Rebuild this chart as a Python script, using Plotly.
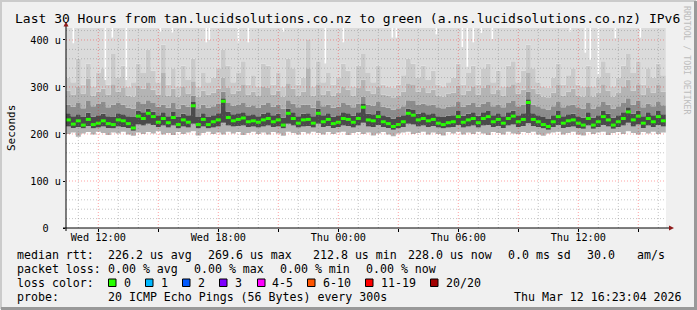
import plotly.graph_objects as go
import pandas as pd

# ---------------- data ----------------
TITLE = "Last 30 Hours from tan.lucidsolutions.co.nz to green (a.ns.lucidsolutions.co.nz) IPv6"
T_START = "2026-03-11 10:23:04"
T_END = "2026-03-12 16:23:04"
FIRST_STEP = "2026-03-11 10:22:30"
STEP = "15min"
Y_TOP = 425.5  # axis top in microseconds

# median rtt per 15-minute step (microseconds)
median_us = [
    230, 221, 228, 219, 231, 220, 223, 228, 222, 220,
    230, 228, 222, 212.8, 238, 233, 244, 237, 225, 233,
    224, 235, 220, 230, 225, 260, 220, 231, 220, 226,
    230, 269.6, 235, 228, 231, 234, 226, 228, 225, 230,
    233, 226, 230, 219, 244, 233, 223, 230, 231, 223,
    244, 226, 231, 222, 225, 233, 231, 225, 233, 257,
    230, 228, 237, 226, 222, 216, 220, 226, 244, 240,
    230, 233, 228, 231, 223, 220, 224, 226, 237, 225,
    230, 233, 224, 233, 237, 226, 231, 223, 233, 238,
    226, 231, 267, 231, 226, 220, 216, 226, 237, 223,
    228, 230, 223, 219, 233, 219, 226, 237, 230, 219,
    226, 233, 247, 230, 238, 223, 233, 226, 237, 228,
]

# smoke boundaries (sorted ping times, microseconds)
smoke_lo = [
    200, 203, 194, 201, 204, 199, 205, 202, 198, 203,
    201, 205, 199, 196, 203, 200, 204, 201, 206, 199,
    202, 198, 204, 200, 203, 206, 197, 202, 205, 200,
    203, 199, 205, 201, 204, 198, 202, 205, 200, 203,
    199, 204, 201, 196, 205, 202, 199, 204, 201, 205,
    202, 199, 204, 200, 203, 205, 198, 202, 204, 200,
    203, 197, 201, 204, 199, 195, 201, 203, 205, 200,
    202, 205, 199, 203, 200, 197, 204, 201, 205, 199,
    203, 200, 205, 201, 198, 204, 202, 199, 205, 201,
    200, 204, 202, 205, 199, 196, 201, 203, 205, 199,
    202, 205, 199, 197, 204, 200, 203, 205, 198, 202,
    204, 200, 206, 202, 199, 204, 201, 205, 200, 203,
]
smoke_lo2 = [
    216, 213, 215, 212, 217, 212, 214, 216, 213, 212,
    216, 215, 213, 207, 220, 218, 222, 219, 215, 218,
    214, 218, 212, 216, 214, 222, 212, 216, 212, 214,
    216, 224, 218, 216, 217, 218, 215, 216, 214, 216,
    218, 215, 216, 212, 222, 218, 214, 216, 217, 214,
    222, 215, 217, 213, 215, 218, 217, 214, 218, 224,
    216, 215, 219, 215, 213, 209, 212, 215, 222, 220,
    216, 218, 215, 217, 214, 212, 214, 215, 219, 214,
    216, 218, 214, 218, 219, 215, 217, 213, 218, 220,
    215, 217, 223, 217, 215, 212, 209, 215, 219, 213,
    215, 216, 213, 211, 218, 211, 215, 219, 216, 211,
    215, 218, 224, 216, 220, 213, 218, 215, 219, 216,
]
smoke_hi1 = [
    244, 238, 242, 236, 245, 237, 240, 243, 238, 236,
    244, 242, 238, 236, 250, 246, 254, 248, 240, 246,
    238, 247, 236, 243, 240, 268, 236, 244, 236, 240,
    244, 276, 248, 242, 244, 246, 240, 242, 238, 243,
    246, 240, 243, 235, 254, 246, 238, 243, 244, 238,
    254, 240, 244, 237, 240, 246, 244, 239, 246, 264,
    243, 242, 249, 240, 237, 233, 236, 240, 254, 251,
    243, 246, 242, 244, 238, 236, 239, 240, 249, 239,
    243, 246, 239, 246, 249, 240, 244, 238, 246, 250,
    240, 244, 274, 244, 240, 236, 232, 240, 249, 238,
    242, 243, 238, 235, 246, 235, 240, 249, 243, 235,
    240, 246, 257, 243, 250, 238, 246, 240, 249, 242,
]
smoke_hi2 = [
    262, 258, 266, 255, 270, 259, 264, 268, 257, 262,
    266, 262, 256, 254, 268, 264, 272, 266, 258, 263,
    256, 266, 254, 262, 258, 282, 255, 262, 256, 259,
    264, 290, 266, 260, 263, 266, 258, 261, 256, 262,
    266, 258, 262, 254, 272, 265, 257, 262, 263, 256,
    272, 259, 263, 256, 258, 266, 263, 257, 265, 280,
    262, 260, 268, 258, 256, 252, 255, 259, 272, 270,
    262, 265, 261, 263, 257, 255, 258, 259, 268, 258,
    262, 266, 258, 265, 268, 259, 263, 257, 266, 270,
    259, 263, 290, 263, 259, 255, 252, 259, 268, 257,
    261, 263, 257, 254, 266, 254, 259, 268, 262, 254,
    259, 266, 276, 262, 270, 257, 265, 259, 268, 261,
]
smoke_hi3 = [
    292, 284, 300, 286, 318, 282, 290, 296, 284, 306,
    290, 298, 282, 280, 302, 296, 310, 294, 284, 330,
    282, 296, 280, 300, 286, 312, 280, 292, 284, 288,
    296, 320, 298, 286, 292, 304, 284, 290, 282, 300,
    298, 284, 292, 280, 308, 296, 282, 290, 340, 282,
    306, 284, 292, 282, 288, 300, 294, 282, 298, 316,
    292, 286, 300, 284, 282, 278, 282, 290, 308, 304,
    290, 298, 288, 294, 282, 280, 286, 288, 302, 284,
    292, 300, 284, 298, 304, 286, 294, 282, 300, 306,
    286, 294, 330, 296, 286, 280, 278, 288, 304, 282,
    290, 296, 282, 280, 300, 280, 288, 306, 292, 280,
    288, 300, 316, 292, 306, 284, 298, 288, 304, 290,
]
smoke_hi4 = [
    320, 310, 360, 305, 350, 300, 330, 340, 305, 370,
    320, 345, 300, 310, 350, 330, 380, 335, 310, 390,
    305, 340, 300, 345, 315, 360, 300, 330, 310, 320,
    340, 380, 345, 310, 330, 355, 305, 325, 300, 350,
    345, 305, 330, 300, 360, 340, 305, 320, 400, 300,
    355, 310, 330, 305, 320, 350, 335, 300, 345, 370,
    330, 310, 345, 305, 300, 298, 305, 325, 360, 350,
    320, 345, 315, 335, 305, 300, 310, 320, 350, 305,
    330, 345, 305, 340, 350, 310, 335, 300, 345, 355,
    310, 335, 390, 340, 310, 300, 298, 320, 350, 305,
    325, 340, 305, 300, 345, 300, 320, 355, 330, 300,
    320, 345, 370, 330, 355, 305, 340, 320, 350, 325,
]

# steps whose slowest ping stayed below the top of the graph
gap_times = [
    "2026-03-11 10:45", "2026-03-11 12:21", "2026-03-11 12:42", "2026-03-11 13:24",
    "2026-03-11 15:06", "2026-03-11 15:42", "2026-03-11 17:24", "2026-03-11 17:33",
    "2026-03-11 19:00", "2026-03-11 19:30", "2026-03-11 21:15", "2026-03-11 23:21",
    "2026-03-12 00:15", "2026-03-12 02:42", "2026-03-12 02:54", "2026-03-12 04:54",
    "2026-03-12 06:12", "2026-03-12 06:27", "2026-03-12 06:45", "2026-03-12 07:09",
    "2026-03-12 07:42", "2026-03-12 11:36", "2026-03-12 12:21", "2026-03-12 12:36",
    "2026-03-12 13:00", "2026-03-12 13:51", "2026-03-12 15:06",
]
gap_floor_us = [
    393, 315, 405, 315, 418, 416, 395, 400,
    395, 395, 418, 350, 395, 405, 405, 412,
    385, 343, 395, 415, 402, 418, 373, 358,
    326, 404, 405,
]

x_tick_vals = ["2026-03-11 12:00", "2026-03-11 18:00", "2026-03-12 00:00",
               "2026-03-12 06:00", "2026-03-12 12:00"]
x_tick_text = ["Wed 12:00", "Wed 18:00", "Thu 00:00", "Thu 06:00", "Thu 12:00"]
y_tick_vals = [0, 100, 200, 300, 400]
y_tick_text = ["0\u00a0\u00a0", "100 u", "200 u", "300 u", "400 u"]

loss_labels = ["0", "1", "2", "3", "4-5", "6-10", "11-19", "20/20"]
loss_colors = ["#26ff00", "#00b8ff", "#0059ff", "#7e00ff", "#ff00ff", "#ff5500", "#ff0000", "#a10000"]

stats_rtt = ["226.2 us avg", "269.6 us max", "212.8 us min", "228.0 us now", "0.0 ms sd", "30.0", "am/s"]
stats_loss = ["0.00 % avg", "0.00 % max", "0.00 % min", "0.00 % now"]
probe_text = "20 ICMP Echo Pings (56 Bytes) every 300s"
stamp_text = "Thu Mar 12 16:23:04 2026"

# ---------------- layout geometry ----------------
W, H = 697, 310
PL, PR, PT, PB = 66, 666, 28, 228  # plot area in pixels
MONO = "DejaVu Sans Mono"


def px(x):
    return (x - PL) / (PR - PL)


def py(y):
    return (PB - y) / (PB - PT)


edges = pd.date_range(FIRST_STEP, periods=len(median_us) + 1, freq=STEP)

fig = go.Figure()

# smoke bands
bounds = [smoke_lo, smoke_lo2, smoke_hi1, smoke_hi2, smoke_hi3, smoke_hi4,
          [Y_TOP + 10] * len(median_us)]
band_colors = ["#b3b3b3", "#4a4a4a", "#8c8c8c", "#b4b4b4", "#cacaca", "#dbdbdb"]
for i, b in enumerate(bounds):
    yy = list(b) + [b[-1]]
    fig.add_trace(go.Scatter(
        x=edges, y=yy, mode="lines", line=dict(width=0, shape="hv"),
        fill=None if i == 0 else "tonexty",
        fillcolor=None if i == 0 else band_colors[i - 1],
        hoverinfo="skip", showlegend=False))

# white gaps where the max ping stayed below the graph top
gx, gy = [], []
for t, f in zip(gap_times, gap_floor_us):
    gx += [t, t, None]
    gy += [f, Y_TOP + 10, None]
fig.add_trace(go.Scatter(x=gx, y=gy, mode="lines",
                         line=dict(color="#ffffff", width=1.6),
                         hoverinfo="skip", showlegend=False))

# median dashes (loss colour 0)
mx, my = [], []
for k, m in enumerate(median_us):
    mx += [edges[k], edges[k + 1], None]
    my += [m, m, None]
fig.add_trace(go.Scatter(x=mx, y=my, mode="lines",
                         line=dict(color=loss_colors[0], width=3),
                         hoverinfo="skip", showlegend=False))

shapes = []
# grid (drawn over the data like rrdtool)
minor_v = pd.date_range("2026-03-11 11:00", "2026-03-12 16:00", freq="1h")
for t in minor_v:
    major = (t.hour % 3 == 0)
    shapes.append(dict(type="line", xref="x", yref="paper", x0=t, x1=t, y0=0, y1=1,
                       layer="above",
                       line=dict(color="rgba(255,0,0,0.36)" if major else "rgba(120,120,120,0.42)",
                                 width=1, dash="1px,2px")))
for v in range(20, 421, 20):
    major = (v % 100 == 0)
    shapes.append(dict(type="line", xref="paper", yref="y", x0=0, x1=1, y0=v, y1=v,
                       layer="above",
                       line=dict(color="rgba(255,0,0,0.36)" if major else "rgba(120,120,120,0.42)",
                                 width=1, dash="1px,2px")))
# axis lines and arrows
shapes.append(dict(type="line", xref="paper", yref="paper", x0=px(63), x1=px(670),
                   y0=0, y1=0, layer="above", line=dict(color="#000000", width=1)))
shapes.append(dict(type="line", xref="paper", yref="paper", x0=0, x1=0,
                   y0=py(231), y1=py(25), layer="above", line=dict(color="#000000", width=1)))
shapes.append(dict(type="path", xref="paper", yref="paper", layer="above",
                   path=f"M {px(63.5)} {py(26.5)} L {px(68.5)} {py(26.5)} L {px(66)} {py(21.5)} Z",
                   fillcolor="#8e1b1b", line=dict(width=0)))
shapes.append(dict(type="path", xref="paper", yref="paper", layer="above",
                   path=f"M {px(669)} {py(225.5)} L {px(669)} {py(230.5)} L {px(674)} {py(228)} Z",
                   fillcolor="#8e1b1b", line=dict(width=0)))
# 3D frame
shapes.append(dict(type="path", xref="paper", yref="paper", layer="above",
                   path=f"M {px(1)} {py(309)} L {px(1)} {py(1)} L {px(696)} {py(1)}",
                   line=dict(color="#cbcbcb", width=2)))
shapes.append(dict(type="path", xref="paper", yref="paper", layer="above",
                   path=f"M {px(1)} {py(308.5)} L {px(695.5)} {py(308.5)} L {px(695.5)} {py(1)}",
                   line=dict(color="#999999", width=3)))

# legend swatches
swatch_x = [108, 145, 182, 219, 257, 307, 365, 430]
label_x = [123, 160, 197, 234, 271, 322, 380, 445]
for sx, c in zip(swatch_x, loss_colors):
    shapes.append(dict(type="rect", xref="paper", yref="paper",
                       x0=px(sx + 0.5), x1=px(sx + 8), y0=py(279), y1=py(286.5),
                       fillcolor=c, line=dict(color="#000000", width=1)))

ann = []


def txt(x, y, s, size=11.6, anchor="left", color="#000000", angle=0):
    ann.append(dict(x=px(x), y=py(y), xref="paper", yref="paper", text=s,
                    showarrow=False, xanchor=anchor, yanchor="middle",
                    textangle=angle,
                    font=dict(family=MONO, size=size, color=color)))


txt(347, 18.5, TITLE, size=13, anchor="center")
txt(11, 128, "Seconds", size=11, anchor="center", angle=-90)
txt(687, 60, "RRDTOOL / TOBI OETIKER", size=8.2, anchor="center", color="#bdbdbd", angle=90)

y1, y2, y3, y4 = 255, 269, 283, 297
txt(15, y1, "median rtt:")
for x, s in zip([106, 206, 311, 406, 506, 585, 635], stats_rtt):
    txt(x, y1, s)
txt(15, y2, "packet loss:")
for x, s in zip([106, 192, 278, 364], stats_loss):
    txt(x, y2, s)
txt(15, y3, "loss color:")
for x, s in zip(label_x, loss_labels):
    txt(x - 1, y3, s)
txt(15, y4, "probe:")
txt(106, y4, probe_text)
txt(512, y4, stamp_text)

# x ticks every 3h, labels every 6h
tick3 = pd.date_range("2026-03-11 12:00", "2026-03-12 15:00", freq="3h")
tick3_text = [x_tick_text[x_tick_vals.index(t.strftime("%Y-%m-%d %H:%M"))]
              if t.strftime("%Y-%m-%d %H:%M") in x_tick_vals else "" for t in tick3]

fig.update_layout(
    width=W, height=H,
    margin=dict(l=PL, r=W - PR, t=PT, b=H - PB, pad=0),
    paper_bgcolor="#f0f0f0", plot_bgcolor="#ffffff",
    showlegend=False,
    shapes=shapes, annotations=ann,
    xaxis=dict(type="date", range=[T_START, T_END], showgrid=False, zeroline=False,
               tickvals=list(tick3), ticktext=tick3_text, ticks="outside", ticklen=3,
               ticklabelstandoff=-3,
               tickcolor="#000000", tickfont=dict(family=MONO, size=10.2, color="#000000"),
               showline=False, fixedrange=True),
    yaxis=dict(range=[0, Y_TOP], showgrid=False, zeroline=False,
               tickvals=y_tick_vals, ticktext=y_tick_text, ticks="outside", ticklen=2,
               tickcolor="#000000", tickfont=dict(family=MONO, size=10.2, color="#000000"),
               showline=False, fixedrange=True),
)

fig.write_html("out.html")
